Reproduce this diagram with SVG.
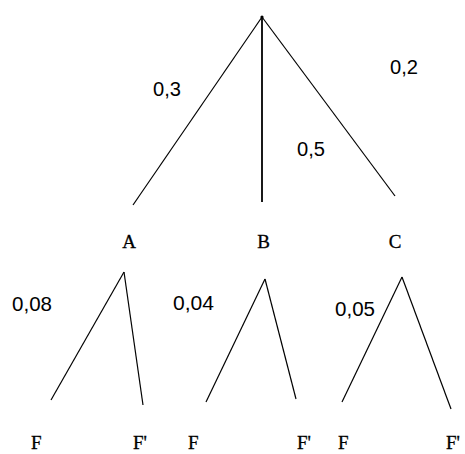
<svg xmlns="http://www.w3.org/2000/svg" width="465" height="454" viewBox="0 0 465 454">
<style>
.e{stroke:#000;stroke-width:1.2;fill:none}
.p{font-family:"Liberation Sans",Arial,sans-serif;font-size:20px;fill:#000}
.l{font-family:"Liberation Serif","Times New Roman",serif;font-size:19px;fill:#000;stroke:#000;stroke-width:0.3}
</style>
<rect width="465" height="454" fill="#fff"/>
<g id="connectors">
<line class="e" x1="262" y1="17" x2="133" y2="205"/>
<line class="e" x1="262" y1="17" x2="262" y2="202" style="stroke-width:1.8"/>
<line class="e" x1="262" y1="17" x2="395" y2="196"/>
<line class="e" x1="124" y1="272" x2="51" y2="400"/>
<line class="e" x1="124" y1="272" x2="143" y2="405"/>
<line class="e" x1="265" y1="279" x2="206" y2="402"/>
<line class="e" x1="265" y1="279" x2="296" y2="399"/>
<line class="e" x1="402" y1="277" x2="342" y2="402"/>
<line class="e" x1="402" y1="277" x2="451" y2="409"/>
<circle cx="262" cy="17" r="1.6" fill="#000"/>
</g>
<g id="edge-labels">
<text class="p" x="153" y="96" textLength="28" lengthAdjust="spacingAndGlyphs">0,3</text>
<text class="p" x="390" y="74" textLength="28" lengthAdjust="spacingAndGlyphs">0,2</text>
<text class="p" x="297" y="156" textLength="28" lengthAdjust="spacingAndGlyphs">0,5</text>
<text class="p" x="12" y="311" textLength="40" lengthAdjust="spacingAndGlyphs">0,08</text>
<text class="p" x="173" y="310" textLength="41" lengthAdjust="spacingAndGlyphs">0,04</text>
<text class="p" x="335" y="316" textLength="40" lengthAdjust="spacingAndGlyphs">0,05</text>
</g>
<g id="node-A"><text class="l" x="129" y="248" text-anchor="middle">A</text></g>
<g id="node-B"><text class="l" x="263.5" y="248" text-anchor="middle">B</text></g>
<g id="node-C"><text class="l" x="395" y="248" text-anchor="middle">C</text></g>
<g id="node-A-F"><text class="l" x="31" y="449">F</text></g>
<g id="node-A-F2"><text class="l" x="133" y="449">F'</text></g>
<g id="node-B-F"><text class="l" x="188" y="449">F</text></g>
<g id="node-B-F2"><text class="l" x="297" y="449">F'</text></g>
<g id="node-C-F"><text class="l" x="338" y="449">F</text></g>
<g id="node-C-F2"><text class="l" x="446" y="449">F'</text></g>
</svg>
